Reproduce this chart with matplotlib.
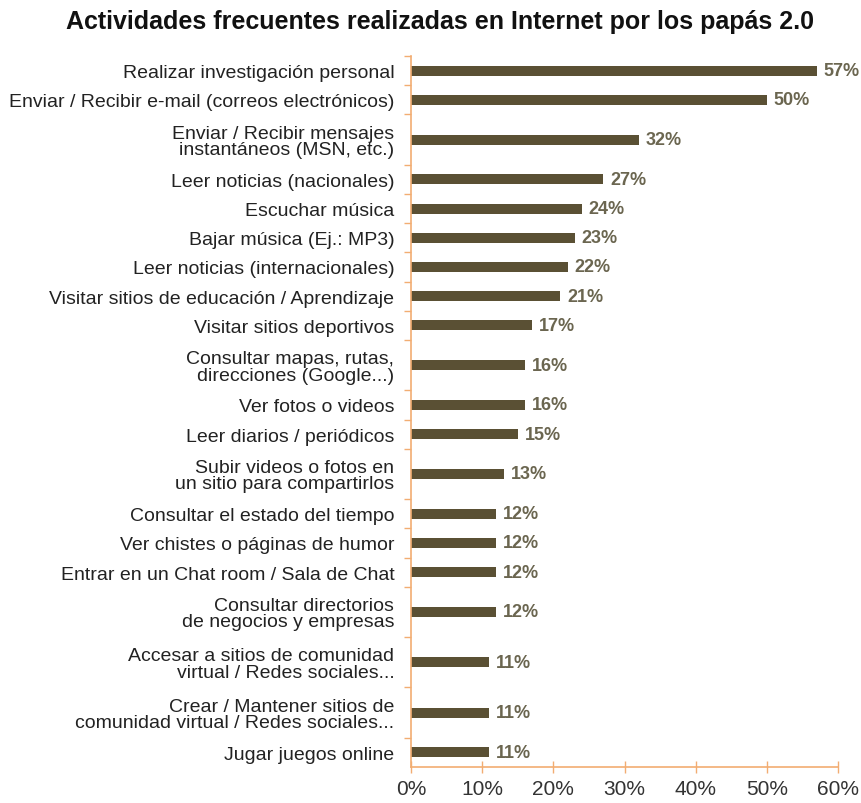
import numpy as np
import matplotlib.pyplot as plt

plt.rcParams['font.family'] = ['Liberation Sans', 'DejaVu Sans']

actividades = [
    "Realizar investigación personal",
    "Enviar / Recibir e-mail (correos electrónicos)",
    "Enviar / Recibir mensajes\ninstantáneos (MSN, etc.)",
    "Leer noticias (nacionales)",
    "Escuchar música",
    "Bajar música (Ej.: MP3)",
    "Leer noticias (internacionales)",
    "Visitar sitios de educación / Aprendizaje",
    "Visitar sitios deportivos",
    "Consultar mapas, rutas,\ndirecciones (Google...)",
    "Ver fotos o videos",
    "Leer diarios / periódicos",
    "Subir videos o fotos en\nun sitio para compartirlos",
    "Consultar el estado del tiempo",
    "Ver chistes o páginas de humor",
    "Entrar en un Chat room / Sala de Chat",
    "Consultar directorios\nde negocios y empresas",
    "Accesar a sitios de comunidad\nvirtual / Redes sociales...",
    "Crear / Mantener sitios de\ncomunidad virtual / Redes sociales...",
    "Jugar juegos online",
]
porcentajes = [57, 50, 32, 27, 24, 23, 22, 21, 17, 16, 16, 15, 13, 12, 12, 12, 12, 11, 11, 11]

bar_col = '#5a5034'
txt_col = '#6b6650'
axis_col = '#f2ad72'

# two-line labels get a taller row
alturas = np.array([50.0 if '\n' in a else 29.0 for a in actividades])
bordes = np.concatenate([[0], np.cumsum(alturas)])
centros = bordes[:-1] + alturas / 2

fig = plt.figure(figsize=(8.61, 8.04), dpi=100)
ax = fig.add_axes([411 / 861, 1 - 768 / 804, 427 / 861, 711 / 804])

ax.barh(centros, porcentajes, height=10, color=bar_col)
for y, v in zip(centros, porcentajes):
    ax.annotate(f"{v}%", (v, y), xytext=(5, 0), textcoords='offset points',
                va='center', ha='left', fontsize=13, fontweight='bold',
                color=txt_col, annotation_clip=False)

ax.set_xlim(0, 60)
ax.set_ylim(bordes[-1], 0)
ax.set_xticks(np.arange(0, 61, 10))
ax.set_xticklabels([f"{t}%" for t in range(0, 61, 10)], fontsize=15, color='#333333')
ax.set_yticks(centros)
ax.set_yticklabels(actividades, fontsize=14, color='#222222', linespacing=0.95)
ax.set_yticks(bordes[:-1], minor=True)
ax.tick_params(axis='y', which='major', length=0, pad=12)
ax.tick_params(axis='y', which='minor', length=5, color=axis_col, width=1)
ax.tick_params(axis='x', length=8, direction='inout', color=axis_col, width=1, pad=5)

for s in ['top', 'right']:
    ax.spines[s].set_visible(False)
for s in ['left', 'bottom']:
    ax.spines[s].set_color(axis_col)
    ax.spines[s].set_linewidth(1.2)

fig.text(440 / 861, 1 - 22 / 804, "Actividades frecuentes realizadas en Internet por los papás 2.0",
         ha='center', va='center', fontsize=18, fontweight='bold', color='#111111')

fig.savefig('out.png', dpi=100)
